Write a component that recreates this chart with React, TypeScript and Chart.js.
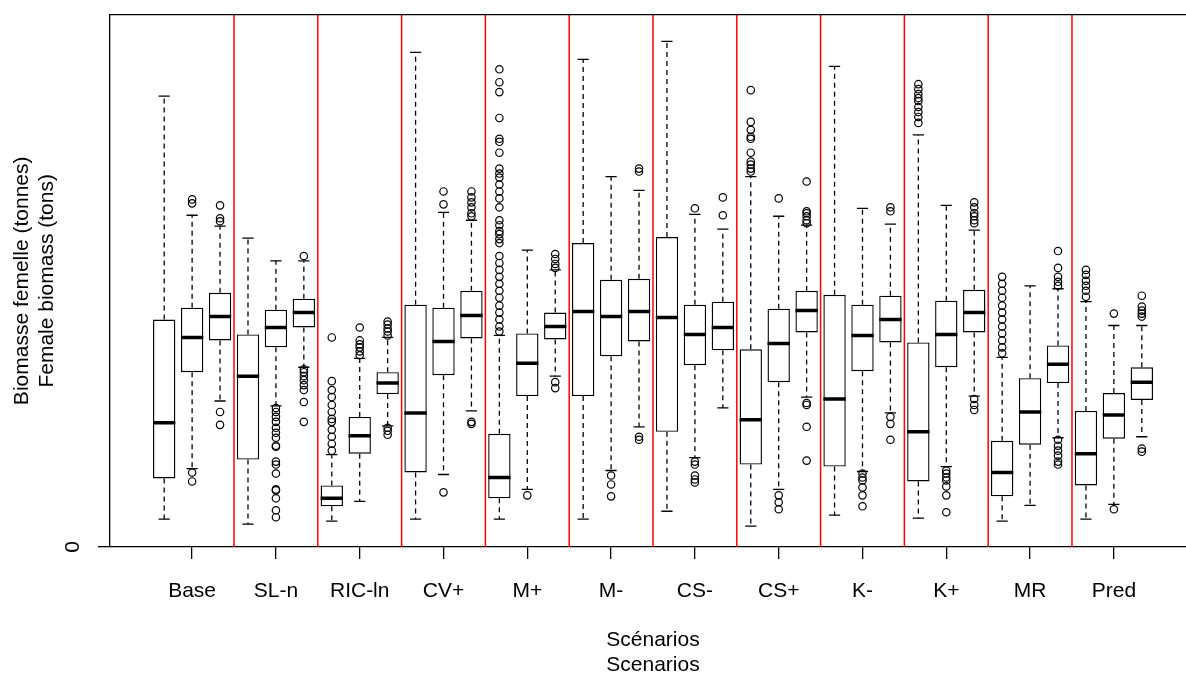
import React, { useEffect, useRef } from 'react';
import { Chart, registerables } from 'chart.js';

Chart.register(...registerables);

// Scenario names (one tick under the middle box of each group of three)
const scenarios = ['Base', 'SL-n', 'RIC-ln', 'CV+', 'M+', 'M-', 'CS-', 'CS+', 'K-', 'K+', 'MR', 'Pred'];

// Box statistics for the 36 boxes (3 per scenario)
const lowerWhisker = [28, 79, 147, 23, 142, 181, 26, 46, 122, 28, 73, 137, 28, 58, 172, 28, 77, 121, 36, 90, 140, 21, 58, 151, 32, 76, 135, 29, 81, 152, 26, 42, 110, 28, 43, 111];
const firstQuartile = [69, 176, 208, 88, 201, 221, 41, 94, 154, 75, 173, 210, 49, 152, 209, 152, 192, 207, 116, 183, 198, 83, 166, 216, 81, 177, 206, 66, 181, 216, 51, 103, 165, 62, 109, 148];
const medianValue = [125, 211, 232, 172, 221, 236, 49, 112, 165, 135, 207, 233, 70, 185, 222, 237, 232, 237, 231, 214, 221, 128, 205, 238, 149, 213, 229, 116, 214, 236, 75, 136, 184, 94, 133, 166];
const thirdQuartile = [229, 241, 256, 214, 239, 250, 62, 131, 176, 244, 241, 258, 114, 215, 236, 306, 269, 270, 312, 244, 247, 199, 240, 258, 254, 244, 253, 206, 248, 259, 107, 170, 203, 137, 155, 181];
const upperWhisker = [454, 334, 323, 311, 288, 288, 93, 190, 211, 498, 337, 329, 213, 299, 279, 491, 373, 359, 509, 335, 320, 373, 333, 324, 484, 341, 325, 415, 344, 319, 191, 263, 260, 247, 223, 223];
const outlierValues: number[][] = [
  [],
  [350, 346, 75, 66],
  [344, 331, 328, 136, 123],
  [],
  [140, 136, 131, 126, 120, 115, 110, 102, 101, 86, 83, 74, 58, 57, 49, 37, 30],
  [293, 179, 176, 172, 168, 163, 158, 146, 126],
  [211, 167, 158, 151, 143, 136, 129, 126, 118, 111, 104, 97],
  [221, 208, 204, 201, 197, 193],
  [227, 224, 220, 217, 213, 120, 117, 113],
  [],
  [358, 345, 55],
  [358, 352, 347, 342, 336, 333, 126, 124],
  [481, 468, 458, 432, 411, 408, 397, 381, 376, 372, 365, 358, 351, 342, 329, 324, 318, 315, 310, 306, 293, 286, 279, 272, 265, 258, 251, 243, 236, 229, 222, 217],
  [52],
  [295, 290, 285, 281, 166, 160],
  [],
  [72, 63, 51],
  [381, 378, 111, 108],
  [],
  [341, 86, 83, 72, 68, 65],
  [352, 334],
  [460, 428, 420, 413, 411, 397, 388, 385, 381, 378],
  [351, 52, 45, 38],
  [368, 338, 336, 333, 329, 326, 145, 143, 121, 87],
  [],
  [74, 70, 67, 60, 52, 41],
  [342, 338, 131, 124, 108],
  [466, 461, 456, 452, 449, 443, 438, 433, 427],
  [77, 74, 70, 67, 61, 52, 35],
  [347, 342, 336, 333, 329, 326, 149, 143, 138],
  [272, 265, 258, 251, 243, 236, 229, 222, 215, 208, 201, 195],
  [],
  [298, 281, 272, 267, 263, 108, 102, 97, 92, 86, 83],
  [279, 274, 268, 263, 258, 252],
  [235, 38],
  [253, 242, 238, 235, 232, 99, 96],
];

// Axis settings
const yTickValues = [0];
const yMax = 536;
const boxPositions = lowerWhisker.map((_, i) => i + 1);
const xTickPositions = scenarios.map((_, i) => i * 3 + 2);
const separatorPositions = scenarios.slice(1).map((_, i) => i * 3 + 3.5);

const FONT = '"Liberation Sans", Arial, Helvetica, sans-serif';

export default function App() {
  const canvasRef = useRef<HTMLCanvasElement | null>(null);

  useEffect(() => {
    const canvas = canvasRef.current;
    if (!canvas) return;

    const boxData = boxPositions.map((x, i) => ({ x, y: [firstQuartile[i], thirdQuartile[i]] }));
    const medianData = boxPositions.map((x, i) => ({ x, y: medianValue[i] }));
    const capData: { x: number; y: number }[] = [];
    const whiskerData: { x: number; y: number | null }[] = [];
    boxPositions.forEach((x, i) => {
      capData.push({ x, y: upperWhisker[i] }, { x, y: lowerWhisker[i] });
      whiskerData.push(
        { x, y: thirdQuartile[i] }, { x, y: upperWhisker[i] }, { x, y: null },
        { x, y: firstQuartile[i] }, { x, y: lowerWhisker[i] }, { x, y: null },
      );
    });
    const outlierData: { x: number; y: number }[] = [];
    outlierValues.forEach((arr, i) => arr.forEach((v) => outlierData.push({ x: boxPositions[i], y: v })));
    const separatorData: { x: number; y: number | null }[] = [];
    separatorPositions.forEach((x) => {
      separatorData.push({ x, y: 0 }, { x, y: yMax }, { x, y: null });
    });

    const framePlugin = {
      id: 'frame',
      afterDraw(chart: any) {
        const { ctx, chartArea } = chart;
        ctx.save();
        ctx.strokeStyle = '#000';
        ctx.lineWidth = 1.3;
        ctx.beginPath();
        ctx.moveTo(chartArea.left, chartArea.top);
        ctx.lineTo(chartArea.right, chartArea.top);
        ctx.lineTo(chartArea.right, chartArea.bottom);
        ctx.stroke();
        ctx.fillStyle = '#000';
        ctx.font = `21px ${FONT}`;
        ctx.textAlign = 'center';
        ctx.textBaseline = 'middle';
        yTickValues.forEach((v) => {
          const py = chart.scales.y.getPixelForValue(v);
          ctx.save();
          ctx.translate(73, py);
          ctx.rotate(-Math.PI / 2);
          ctx.fillText(String(v), 0, 0);
          ctx.restore();
        });
        ctx.restore();
      },
    };

    const chart = new Chart(canvas, {
      type: 'bar',
      data: {
        datasets: [
          {
            type: 'scatter',
            data: outlierData,
            pointStyle: 'circle',
            pointRadius: 3.7,
            pointBorderWidth: 1.2,
            pointBorderColor: '#000',
            pointBackgroundColor: 'rgba(0,0,0,0)',
            showLine: false,
            order: 0,
          } as any,
          {
            type: 'scatter',
            data: medianData,
            pointStyle: 'line',
            pointRadius: 11.15,
            pointBorderWidth: 3.5,
            pointBorderColor: '#000',
            showLine: false,
            order: 1,
          } as any,
          {
            type: 'bar',
            data: boxData,
            backgroundColor: '#fff',
            borderColor: '#000',
            borderWidth: 1.4,
            borderSkipped: false,
            barPercentage: 0.8,
            categoryPercentage: 1,
            order: 2,
          } as any,
          {
            type: 'scatter',
            data: capData,
            pointStyle: 'line',
            pointRadius: 5.6,
            pointBorderWidth: 1.3,
            pointBorderColor: '#000',
            showLine: false,
            order: 3,
          } as any,
          {
            type: 'line',
            data: whiskerData,
            borderColor: '#000',
            borderWidth: 1.3,
            borderDash: [5, 4],
            pointRadius: 0,
            spanGaps: false,
            fill: false,
            order: 4,
          } as any,
          {
            type: 'line',
            data: separatorData,
            borderColor: '#ff0000',
            borderWidth: 1.5,
            pointRadius: 0,
            spanGaps: false,
            fill: false,
            order: 5,
          } as any,
        ],
      },
      options: {
        animation: false,
        responsive: false,
        maintainAspectRatio: false,
        events: [],
        layout: { padding: { top: 11, right: 24, left: 0, bottom: 0 } },
        plugins: { legend: { display: false }, tooltip: { enabled: false }, title: { display: false } },
        font: { family: FONT },
        scales: {
          x: {
            type: 'linear',
            min: -0.94,
            max: 37.94,
            offset: false,
            afterBuildTicks: (s: any) => {
              s.ticks = xTickPositions.map((v) => ({ value: v }));
            },
            afterFit: (s: any) => {
              s.height = 130;
            },
            ticks: {
              autoSkip: false,
              maxRotation: 0,
              minRotation: 0,
              padding: 20,
              color: '#000',
              font: { family: FONT, size: 21 },
              callback: (v: any) => scenarios[Math.round((Number(v) - 2) / 3)],
            },
            grid: { offset: false, drawOnChartArea: false, drawTicks: true, tickLength: 12, color: '#000', lineWidth: 1.3 },
            border: { display: true, color: '#000', width: 1.3 },
            title: {
              display: true,
              text: ['Scénarios', 'Scenarios'],
              color: '#000',
              font: { family: FONT, size: 21, lineHeight: 25 / 21 },
              padding: { top: 0, bottom: -1 },
            },
          },
          y: {
            type: 'linear',
            min: 0,
            max: yMax,
            afterBuildTicks: (s: any) => {
              s.ticks = yTickValues.map((v) => ({ value: v }));
            },
            afterFit: (s: any) => {
              s.width = 110;
            },
            ticks: { display: false },
            grid: { drawOnChartArea: false, drawTicks: true, tickLength: 12, color: '#000', lineWidth: 1.3 },
            border: { display: true, color: '#000', width: 1.3 },
            title: {
              display: true,
              text: ['Biomasse femelle (tonnes)', 'Female biomass (tons)'],
              color: '#000',
              font: { family: FONT, size: 21, lineHeight: 25 / 21 },
              padding: { top: 10, bottom: 0 },
            },
          },
        },
      } as any,
      plugins: [framePlugin],
    });

    return () => chart.destroy();
  }, []);

  return (
    <div style={{ position: 'fixed', left: 0, top: 0, width: 1186, height: 677, overflow: 'hidden', background: '#fff' }}>
      <canvas ref={canvasRef} width={1220} height={677} style={{ display: 'block', width: 1220, height: 677 }} />
    </div>
  );
}
